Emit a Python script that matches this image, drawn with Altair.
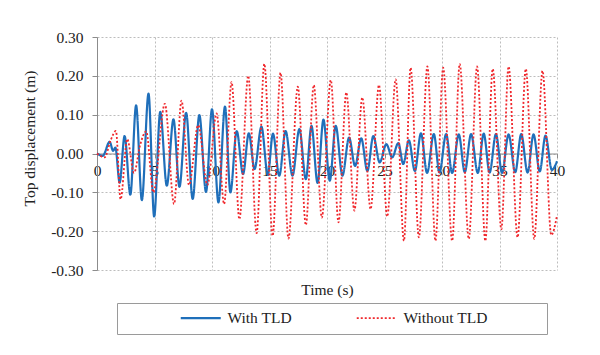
import altair as alt
import pandas as pd

# ---- data (extrema of each response) ----
with_tld_t = [0, 0.5, 1.1, 1.4, 1.6, 1.97, 2.4, 2.9, 3.4, 3.9, 4.48, 4.97, 5.5, 6.07, 6.65,
              7.17, 7.75, 8.32, 8.9, 9.48, 10.0, 10.56, 11.13, 11.6, 12.15, 12.7, 13.2,
              13.7, 14.3, 14.85, 15.3, 15.85, 16.4, 17.0, 17.6, 18.16, 18.65, 19.18,
              19.69, 20.24, 20.76, 21.34, 21.92, 22.44, 22.98, 23.51, 24.03, 24.58,
              25.16, 25.67, 26.2, 26.63, 27.12, 27.64, 28.17, 28.7, 29.29, 29.78,
              30.36, 30.88, 31.46, 31.98, 32.53, 33.11, 33.63, 34.14, 34.69, 35.22,
              35.79, 36.37, 36.89, 37.44, 37.96, 38.5, 39.0, 39.55, 40.0]
with_tld_v = [0, -0.006, 0.03, 0.007, 0.015, -0.075, 0.045, -0.106, 0.124, -0.12, 0.154,
              -0.162, 0.107, -0.083, 0.088, -0.086, 0.105, -0.117, 0.099, -0.099, 0.114,
              -0.126, 0.121, -0.1, 0.058, -0.053, 0.052, -0.04, 0.069, -0.055, 0.051,
              -0.057, 0.058, -0.057, 0.063, -0.066, 0.071, -0.076, 0.087, -0.07, 0.071,
              -0.057, 0.041, -0.032, 0.039, -0.045, 0.045, -0.023, 0.024, -0.01, 0.027,
              -0.027, 0.034, -0.045, 0.052, -0.05, 0.05, -0.049, 0.05, -0.05, 0.049,
              -0.048, 0.05, -0.05, 0.051, -0.049, 0.05, -0.05, 0.049, -0.048, 0.05,
              -0.049, 0.049, -0.046, 0.046, -0.042, -0.02]

without_tld_t = [0, 0.66, 1.2, 1.65, 2.05, 2.63, 3.22, 3.75, 4.28, 4.9, 5.9, 6.7, 7.35,
                 8.0, 8.8, 9.6, 10.4, 11.05, 11.7, 12.38, 13.15, 13.88, 14.55, 15.27,
                 15.96, 16.65, 17.46, 18.16, 18.85, 19.55, 20.33, 21.0, 21.68, 22.38,
                 23.07, 23.79, 24.52, 25.24, 25.97, 26.69, 27.27, 27.99, 28.73, 29.43,
                 30.1, 30.88, 31.54, 32.33, 33.05, 33.77, 34.41, 35.16, 35.79, 36.57,
                 37.29, 38.02, 38.74, 39.5, 40.0]
without_tld_v = [0, -0.01, 0.035, 0.058, -0.118, 0.037, -0.05, 0.022, 0.057, -0.1, 0.128,
                 -0.13, 0.136, -0.081, 0.073, -0.081, 0.103, -0.13, 0.184, -0.169, 0.2,
                 -0.205, 0.231, -0.212, 0.208, -0.219, 0.172, -0.184, 0.176, -0.165,
                 0.189, -0.177, 0.157, -0.147, 0.144, -0.143, 0.176, -0.162, 0.191,
                 -0.225, 0.221, -0.216, 0.224, -0.225, 0.221, -0.225, 0.231, -0.22,
                 0.224, -0.225, 0.218, -0.195, 0.224, -0.216, 0.218, -0.22, 0.213,
                 -0.21, -0.16]

series_names = ["With TLD", "Without TLD"]
series_colors = ["#1f6fba", "#f0282d"]
x_tick_values = [0, 5, 10, 15, 20, 25, 30, 35, 40]
y_tick_values = [-0.3, -0.2, -0.1, 0.0, 0.1, 0.2, 0.3]

df = pd.DataFrame({
    "t": with_tld_t + without_tld_t,
    "v": with_tld_v + without_tld_v,
    "series": [series_names[0]] * len(with_tld_t) + [series_names[1]] * len(without_tld_t),
})

FONT = "Liberation Serif"
FS = 15.5
TXT = "#222222"
GRID = "#bdbdbd"
AXC = "#8c8c8c"

x_scale = alt.Scale(domain=[0, 40], nice=False, zero=False)
y_scale = alt.Scale(domain=[-0.3, 0.3], nice=False)

y_axis = alt.Axis(
    values=y_tick_values,
    labelExpr="(datum.value < 0 ? '-' : '') + format(abs(datum.value), '.2f')",
    grid=True, gridColor=GRID, gridDash=[2, 2], gridWidth=1,
    domain=True, domainColor=AXC, ticks=True, tickColor=AXC, tickSize=5,
    labelPadding=9, labelFont=FONT, labelFontSize=FS, labelColor=TXT,
    title="Top displacement (m)", titleFont=FONT, titleFontSize=FS,
    titleFontWeight="normal", titleColor=TXT,
    titleX=-68, titleY=101, titleAngle=270, titleAlign="center",
    titleBaseline="middle",
)

grid_layer = alt.Chart(df).mark_point(opacity=0).encode(
    x=alt.X("t:Q", scale=x_scale, axis=alt.Axis(
        orient="bottom", values=x_tick_values, grid=True, gridColor=GRID,
        gridDash=[2, 2], gridWidth=1, labels=False, ticks=False, domain=False,
        title="Time (s)", titleFont=FONT, titleFontSize=FS, titleFontWeight="normal",
        titleColor=TXT, titleY=19, titleBaseline="middle")),
    y=alt.Y("v:Q", scale=y_scale, axis=y_axis),
)

nbsp = "\u00a0"
blank = "\u2800"
right_gap = blank * 3 + nbsp + blank
legend = alt.Legend(
    orient="none", legendX=20, legendY=266, direction="horizontal",
    symbolType="M-4,0L4,0", symbolSize=100, symbolStrokeWidth=2.2,
    symbolOffset=15,
    labelFont=FONT, labelFontSize=FS, labelColor=TXT, labelOffset=19,
    columnPadding=61, padding=7, strokeColor="#9a9a9a", fillColor="white",
    titleOrient="left", titlePadding=54, titleFontSize=FS, titleFont=FONT,
    labelLimit=300,
    labelExpr="datum.label == 'Without TLD' ? datum.label + '" + right_gap + "' : datum.label",
)

lines = alt.Chart(df).mark_line(interpolate="monotone").encode(
    x=alt.X("t:Q", scale=x_scale, axis=alt.Axis(
        orient="bottom", offset=-116.5, values=x_tick_values, grid=False,
        labels=True, labelFlush=False, ticks=True, tickSize=4, tickColor=AXC,
        domain=True, domainColor=AXC, domainWidth=1, labelPadding=6,
        labelFont=FONT, labelFontSize=FS, labelColor=TXT, title=None)),
    y=alt.Y("v:Q", scale=y_scale, axis=y_axis),
    color=alt.Color("series:N", scale=alt.Scale(domain=series_names, range=series_colors),
                    title=nbsp, legend=legend),
    strokeDash=alt.StrokeDash("series:N",
                              scale=alt.Scale(domain=series_names, range=[[1, 0], [2, 2]]),
                              title=nbsp, legend=legend),
    strokeWidth=alt.StrokeWidth("series:N",
                                scale=alt.Scale(domain=series_names, range=[2.2, 1.8]),
                                legend=None),
)

chart = alt.layer(grid_layer, lines).resolve_axis(x="independent").properties(
    width=460, height=233,
    autosize=alt.AutoSizeParams(type="none"),
    padding={"left": 97, "top": 37, "right": 43, "bottom": 85},
    background="white",
).configure_view(stroke=None)

chart.save("out.html", embed_options={"renderer": "svg", "actions": False})
